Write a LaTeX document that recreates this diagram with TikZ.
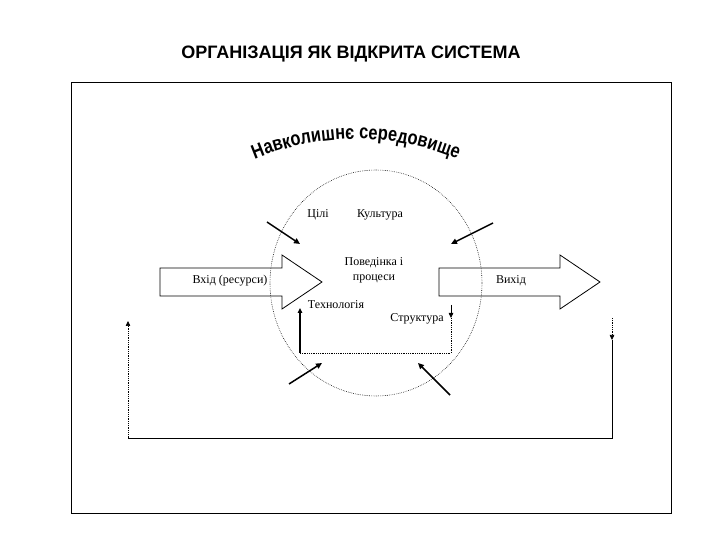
\documentclass[tikz,border=0pt]{standalone}
\usepackage{fontspec}
\setmainfont{Liberation Serif}
\newfontfamily\arialf{Liberation Sans}
\newfontfamily\arialw{Liberation Sans Bold}[FakeStretch=0.82]
\usetikzlibrary{arrows.meta,decorations.text,shapes.geometric}
\begin{document}
\begin{tikzpicture}[x=1pt,y=1pt,
  lbl/.style={font=\fontsize{12}{14}\selectfont, inner sep=0pt, align=center},
  thinline/.style={line width=0.9pt},
  dotline/.style={line width=0.6pt, dash pattern=on 0.6pt off 1.2pt},
  bigarrow/.style={line width=0.8pt, line join=miter},
  tiparr/.style={-{Triangle[length=5pt,width=4.5pt]}},
  smallarr/.style={line width=1.5pt, -{Triangle[length=6pt,width=5.5pt]}}
]
\useasboundingbox (0,0) rectangle (720,540);
% title
\node (title) at (351,486) {\arialf\bfseries\fontsize{18}{20}\selectfont ОРГАНІЗАЦІЯ ЯК ВІДКРИТА СИСТЕМА};
% frame
\node (frame) [draw, thinline, minimum width=600pt, minimum height=431pt, inner sep=0pt] at (371,242.5) {};
% environment ellipse
\node (env) [draw, ellipse, dotline, minimum width=212pt, minimum height=226pt, inner sep=0pt] at (376,257) {};
% curved text
\path[decorate, decoration={text along path, text align=center,
  text={|\arialw\fontsize{20}{20}\selectfont|Навколишнє середовище}}]
  (356,139) ++(120:262) arc[start angle=120, end angle=60, radius=262];
% input arrow
\draw[bigarrow] (160,272) -- (282,272) -- (282,285) -- (322,258) -- (282,231) -- (282,244) -- (160,244) -- cycle;
\node (in) [lbl] at (230,259) {Вхід (ресурси)};
% output arrow
\draw[bigarrow] (439,272) -- (560,272) -- (560,285) -- (600,258) -- (560,231) -- (560,244) -- (439,244) -- cycle;
\node (out) [lbl] at (511,259) {Вихід};
% labels
\node (goals) [lbl] at (318,325) {Цілі};
\node (cult) [lbl] at (380,325) {Культура};
\node (beh) [lbl, font=\fontsize{12}{15}\selectfont] at (374,270) {Поведінка і\\процеси};
\node (tech) [lbl] at (336,235) {Технологія};
\node (struct) [lbl] at (417,221) {Структура};
% small arrows
\coordinate (a1s) at (267,318); \coordinate (a1e) at (300,296);
\coordinate (a2s) at (493,317); \coordinate (a2e) at (451,296);
\coordinate (a3s) at (289,156); \coordinate (a3e) at (322,177);
\coordinate (a4s) at (450,145); \coordinate (a4e) at (418,177);
\draw[smallarr] (a1s) -- (a1e);
\draw[smallarr] (a2s) -- (a2e);
\draw[smallarr] (a3s) -- (a3e);
\draw[smallarr] (a4s) -- (a4e);
% inner loop
\coordinate (tb) at (300,187); \coordinate (tt) at (300,232);
\coordinate (sb) at (451,187); \coordinate (st) at (451,222); \coordinate (sa) at (451,235);
\draw[line width=1.5pt, tiparr] (tb) -- (tt);
\draw[dotline] (tb) -- (sb) -- (st);
\draw[line width=0.8pt, tiparr] (sa) -- (st);
% outer loop
\coordinate (r1) at (612,222); \coordinate (r2) at (612,200); \coordinate (r3) at (612,102);
\coordinate (l3) at (128,102); \coordinate (l1) at (128,219);
\draw[dotline, tiparr] (r1) -- (r2);
\draw[thinline] (r2) -- (r3) -- (l3);
\draw[dotline, tiparr] (l3) -- (l1);
\end{tikzpicture}
\end{document}
